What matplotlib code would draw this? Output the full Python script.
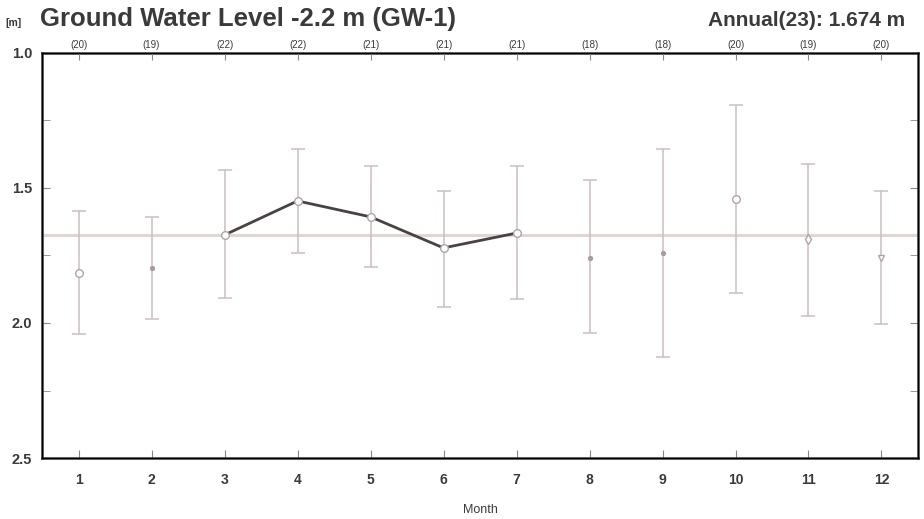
import matplotlib
matplotlib.use("Agg")
import matplotlib.pyplot as plt
import matplotlib.ticker as ticker
import numpy as np

plt.rcParams.update({
    "font.family": ["Liberation Sans Narrow", "Liberation Sans"],
    "font.size": 8,
})

months = np.arange(1, 13)
counts = [20, 19, 22, 22, 21, 21, 21, 18, 18, 20, 19, 20]
mean = [1.815, 1.796, 1.674, 1.548, 1.607, 1.722, 1.667, 1.760, 1.740, 1.541, 1.689, 1.760]
upper = [1.585, 1.607, 1.433, 1.355, 1.418, 1.511, 1.418, 1.470, 1.356, 1.193, 1.411, 1.511]
lower = [2.040, 1.985, 1.907, 1.740, 1.793, 1.940, 1.911, 2.037, 2.126, 1.889, 1.974, 2.004]
markers = ["o", ".", "o", "o", "o", "o", "o", ".", ".", "o", "d", "v"]
annual = 1.674
annual_n = 23
line_months = [3, 4, 5, 6, 7]

ERR = "#cbbebe"
DARK = "#4a4242"
AX = "#333333"
TXT = "#3a3a3a"

fig = plt.figure(figsize=(9.24, 5.19), dpi=100)
ax = fig.add_axes([0.0455, 0.1175, 0.948, 0.7805])

ax.axhline(annual, color="#e0d6d6", linewidth=2.2, zorder=1)

m = np.array(mean)
yerr = [m - np.array(upper), np.array(lower) - m]
ax.errorbar(months, mean, yerr=yerr, fmt="none", ecolor=ERR,
            elinewidth=1.1, capsize=5, capthick=1.1, zorder=2)

idx = [k - 1 for k in line_months]
ax.plot(months[idx], m[idx], color=DARK, linewidth=2.0, zorder=3)

for x, y, mk in zip(months, mean, markers):
    if mk == ".":
        ax.plot(x, y, marker="o", markersize=2.8, color="#a89c9c", zorder=4)
    else:
        ax.plot(x, y, marker=mk, markersize=5.5 if mk == "o" else 5,
                markerfacecolor="white", markeredgecolor="#b0a4a4",
                markeredgewidth=1.0, zorder=4)

ax.set_xlim(0.5, 12.5)
ax.set_ylim(2.5, 1.0)
ax.set_xticks(months)
ax.set_xticklabels([str(k) for k in months], fontweight="bold", fontsize=10,
                   color=TXT)
ax.yaxis.set_major_locator(ticker.MultipleLocator(0.5))
ax.yaxis.set_minor_locator(ticker.MultipleLocator(0.25))
ax.yaxis.set_major_formatter(ticker.FormatStrFormatter("%.1f"))
for lb in ax.get_yticklabels():
    lb.set_fontweight("bold")
    lb.set_fontsize(10.5)
    lb.set_color(TXT)
ax.tick_params(axis="y", which="both", direction="in", right=True, length=6,
               color="#888888", pad=7)
ax.tick_params(axis="x", direction="in", length=6, color="#888888", pad=11)
ax.set_xlabel("Month", fontsize=9, labelpad=12, color=TXT)

for s in ax.spines.values():
    s.set_color(AX)
    s.set_linewidth(1.8)

top = ax.twiny()
top.set_xlim(ax.get_xlim())
top.set_xticks(months)
top.set_xticklabels(["(%d)" % c for c in counts], fontsize=7, color=TXT)
top.tick_params(axis="x", direction="in", length=5, color="#888888", pad=2)

fig.text(0.006, 0.95, "[m]", fontsize=7.5, fontweight="bold", color=TXT)
fig.text(0.043, 0.95, "Ground Water Level -2.2 m (GW-1)", fontsize=18.5,
         fontweight="bold", color=TXT, family="Liberation Sans")
fig.text(0.98, 0.95, "Annual(%d): %.3f m" % (annual_n, annual), fontsize=15,
         fontweight="bold", color=TXT, ha="right", family="Liberation Sans")

fig.savefig("out.png", dpi=100, facecolor="white")
